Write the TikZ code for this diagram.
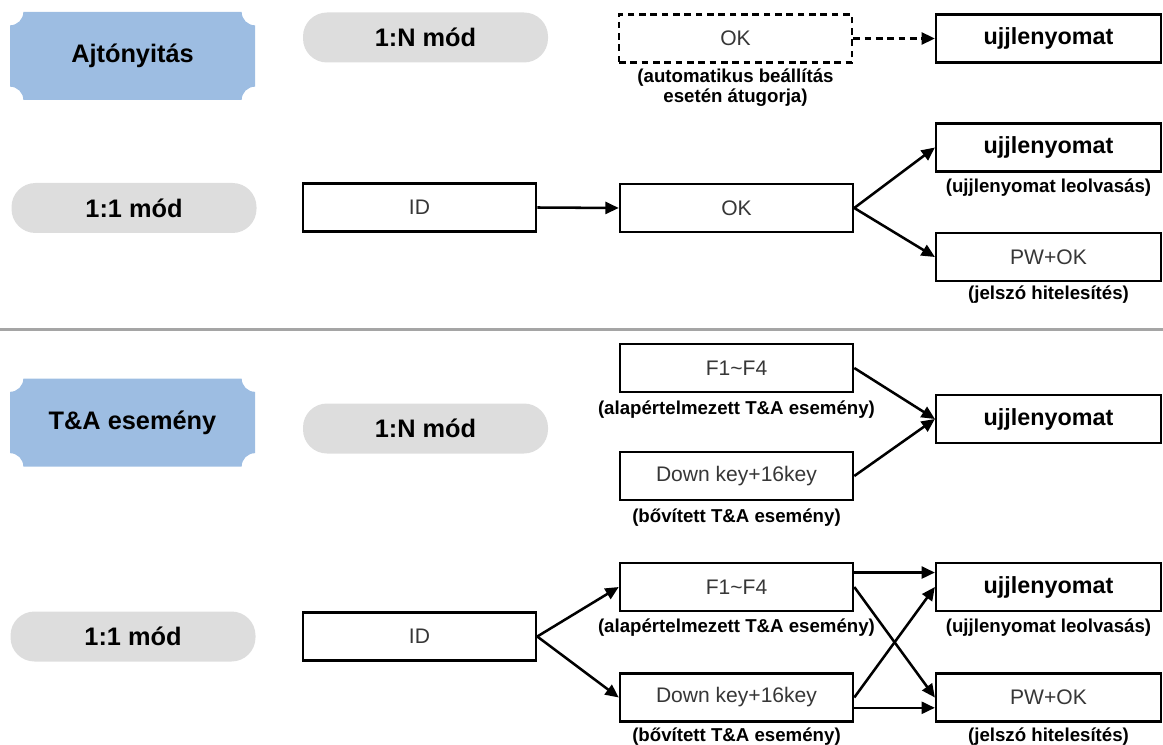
\documentclass[tikz,border=0pt]{standalone}
\usepackage{fontspec}
\setmainfont{Liberation Sans}
\usepackage{xcolor}
\usetikzlibrary{arrows.meta}

\definecolor{plaqueblue}{RGB}{157,189,226}
\definecolor{pillgray}{RGB}{221,221,221}
\definecolor{rulegray}{RGB}{165,165,165}
\definecolor{keytext}{RGB}{55,55,55}

\tikzset{
  head/.style={minimum width=183.75pt, minimum height=66pt, inner sep=0pt,
    font=\fontsize{19}{22}\selectfont\bfseries,
    path picture={
      \fill[plaqueblue] ([xshift=10pt]path picture bounding box.north west)
        -- ([xshift=-10pt]path picture bounding box.north east) arc[start angle=180,end angle=270,radius=10pt]
        -- ([yshift=10pt]path picture bounding box.south east) arc[start angle=90,end angle=180,radius=10pt]
        -- ([xshift=10pt]path picture bounding box.south west) arc[start angle=0,end angle=90,radius=10pt]
        -- ([yshift=-10pt]path picture bounding box.north west) arc[start angle=270,end angle=360,radius=10pt]
        -- cycle;}},
  pill/.style={fill=pillgray, rounded corners=18pt, minimum width=183.75pt, minimum height=37.5pt,
    inner sep=0pt, font=\fontsize{19}{22}\selectfont\bfseries},
  keybox/.style={draw, line width=1.9pt, fill=white, minimum width=174.75pt, minimum height=36pt,
    inner sep=0pt, font=\fontsize{15.8}{18}\selectfont, text=keytext},
  rightcol/.style={minimum width=168.5pt},
  printbox/.style={keybox, rightcol, font=\fontsize{17.5}{20}\selectfont\bfseries, text=black},
  note/.style={inner sep=0pt, align=center, font=\fontsize{14}{14.5}\selectfont\bfseries},
}

\begin{document}
\begin{tikzpicture}[x=0.75pt, y=-0.75pt, line width=1.9pt,
    >={Triangle[length=10pt,width=9pt]}]
  \useasboundingbox (0,0) rectangle (1163,745);

  % Nodes, door opening
  \node[head] (DoorHead) at (132.5,56) {Ajtónyitás};
  \node[pill] (ModeNTop) at (425.5,37.5) {1:N mód};
  \node[keybox,dash pattern=on 5pt off 3.5pt] (OkSkip) at (735.5,38.5) {OK};
  \node[note] (OkSkipNote) at (735.5,87.5) {(automatikus beállítás\\esetén átugorja)};
  \node[printbox] (PrintA) at (1048.5,38.5) {ujjlenyomat};

  \node[pill] (ModeOneTop) at (134,208) {1:1 mód};
  \node[keybox] (IdA) at (419.5,207.5) {ID};
  \node[keybox] (OkA) at (736.5,208) {OK};
  \node[printbox] (PrintB) at (1048.5,147.5) {ujjlenyomat};
  \node[note] (PrintBNote) at (1048.5,188) {(ujjlenyomat leolvasás)};
  \node[keybox,rightcol] (PassA) at (1048.5,257) {PW+OK};
  \node[note] (PassANote) at (1048.5,295) {(jelszó hitelesítés)};

  % Separator
  \draw[rulegray, line width=2.25pt] (0,329) -- (1163,329);

  % Nodes, T&A event
  \node[head] (EventHead) at (132.5,422.5) {T\&A esemény};
  \node[pill] (ModeNBot) at (425.5,428.5) {1:N mód};
  \node[keybox] (FuncA) at (736.5,368) {F1\textasciitilde F4};
  \node[note] (FuncANote) at (736.5,410) {(alapértelmezett T\&A esemény)};
  \node[keybox] (DownA) at (736.5,476) {Down key+16key};
  \node[note] (DownANote) at (736.5,518) {(bővített T\&A esemény)};
  \node[printbox] (PrintC) at (1048.5,419) {ujjlenyomat};

  \node[pill] (ModeOneBot) at (133,636.5) {1:1 mód};
  \node[keybox] (IdB) at (419.5,636.5) {ID};
  \node[keybox] (FuncB) at (736.5,587) {F1\textasciitilde F4};
  \node[note] (FuncBNote) at (736.5,628) {(alapértelmezett T\&A esemény)};
  \node[keybox] (DownB) at (736.5,697.5) {Down key+16key};
  \node[note] (DownBNote) at (736.5,737) {(bővített T\&A esemény)};
  \node[printbox] (PrintD) at (1048.5,587) {ujjlenyomat};
  \node[note] (PrintDNote) at (1048.5,628) {(ujjlenyomat leolvasás)};
  \node[keybox,rightcol] (PassB) at (1048.5,697.5) {PW+OK};
  \node[note] (PassBNote) at (1048.5,737) {(jelszó hitelesítés)};

  % Edges
  \draw[->,dash pattern=on 5pt off 3.5pt] (OkSkip.east) -- (PrintA.west);
  \draw[->] (IdA.east) -- (OkA.west);
  \draw[->] (OkA.east) -- (PrintB.west);
  \draw[->] (OkA.east) -- (PassA.west);

  \draw[->] (FuncA.east) -- (PrintC.west);
  \draw[->] (DownA.east) -- (PrintC.west);

  \draw[->] (IdB.east) -- (FuncB.west);
  \draw[->] (IdB.east) -- (DownB.west);
  \draw[->] (FuncB.7) -- (FuncB.7 -| PrintD.west);
  \draw[->] (FuncB.east) -- (PassB.west);
  \draw[->] (DownB.east) -- (PrintD.west);
  \draw[->] (DownB.-5) -- (DownB.-5 -| PassB.west);
\end{tikzpicture}
\end{document}
